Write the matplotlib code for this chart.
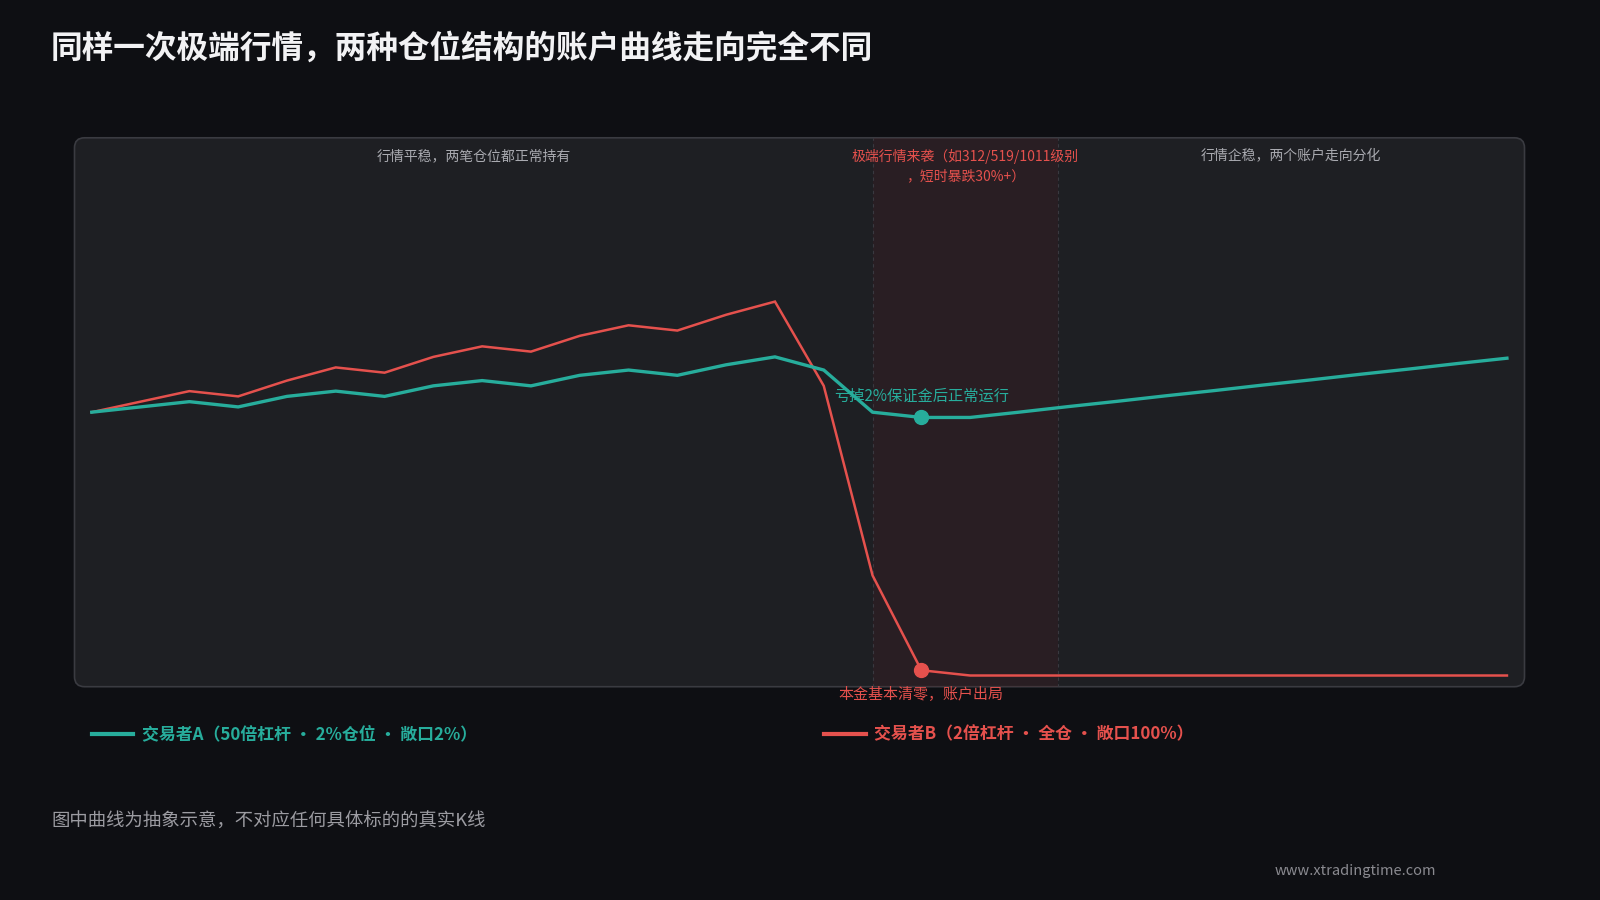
import matplotlib
matplotlib.use("Agg")
import matplotlib.pyplot as plt
from matplotlib.patches import FancyBboxPatch
from matplotlib.lines import Line2D

plt.rcParams['font.family'] = ['Noto Sans CJK SC', 'DejaVu Sans']

# account equity (start = 100), one value per time step
steps = list(range(30))
trader_a = [100, 102, 104, 102, 106, 108, 106, 110, 112, 110, 114, 116, 114, 118, 121,
            116, 100, 98, 98, 100, 102.1, 104.1, 106.2, 108.2, 110.3, 112.3, 114.4, 116.4, 118.5, 120.5]
trader_b = [100, 104, 108, 106, 112, 117, 115, 121, 125, 123, 129, 133, 131, 137, 142,
            110, 38, 2, 0, 0, 0, 0, 0, 0, 0, 0, 0, 0, 0, 0]
crash_start, crash_end = 16, 19.8
mark_step = 17

label_a = "交易者A（50倍杠杆 · 2%仓位 · 敞口2%）"
label_b = "交易者B（2倍杠杆 · 全仓 · 敞口100%）"
phase_labels = ["行情平稳，两笔仓位都正常持有",
                "极端行情来袭（如312/519/1011级别\n，短时暴跌30%+）",
                "行情企稳，两个账户走向分化"]
note_a = "亏掉2%保证金后正常运行"
note_b = "本金基本清零，账户出局"

BG = '#0e0f13'
PANEL = '#1e1f23'
TEAL = '#27ad9c'
RED = '#e5514d'
GREY = '#a9aab0'

fig = plt.figure(figsize=(16, 9), dpi=100, facecolor=BG)

# rounded panel
panel = FancyBboxPatch((0.745, 2.133), 14.5, 5.489,
                       boxstyle="round,pad=0,rounding_size=0.1",
                       transform=fig.dpi_scale_trans, facecolor=PANEL,
                       edgecolor='#3a3b41', linewidth=1.2, zorder=-1)
fig.patches.append(panel)

ax = fig.add_axes([74.5 / 1600, 213.3 / 900, 1450 / 1600, 548.9 / 900])
ax.set_zorder(2)
ax.set_facecolor('none')
ax.set_xlim(-0.354, 29.36)
ax.set_ylim(-4.25, 204.2)
for s in ax.spines.values():
    s.set_visible(False)
ax.set_xticks([])
ax.set_yticks([])

# crash zone
ax.axvspan(crash_start, crash_end, color='#6a1c24', alpha=0.15, lw=0, zorder=1)
for xv in (crash_start, crash_end):
    ax.axvline(xv, color='#393940', lw=0.8, ls=(0, (3, 3)), zorder=1)

ax.plot(steps, trader_b, color=RED, lw=1.8, zorder=3, solid_joinstyle='miter')
ax.plot(steps, trader_a, color=TEAL, lw=2.4, zorder=4, solid_joinstyle='miter')
ax.plot(mark_step, trader_a[mark_step], 'o', color=TEAL, ms=10, zorder=5)
ax.plot(mark_step, trader_b[mark_step], 'o', color=RED, ms=10, zorder=5)

ax.annotate(note_a, (mark_step, trader_a[mark_step]), xytext=(0, 15),
            textcoords='offset points', ha='center', va='center',
            color=TEAL, fontsize=11)
ax.annotate(note_b, (mark_step, trader_b[mark_step]), xytext=(0, -17),
            textcoords='offset points', ha='center', va='center',
            color=RED, fontsize=10.8, annotation_clip=False)

# phase labels
tr = ax.get_xaxis_transform()
xl = ax.get_xlim()
centers = [(xl[0] + crash_start) / 2, (crash_start + crash_end) / 2, (crash_end + xl[1]) / 2]
colors = [GREY, RED, GREY]
for c, t, col in zip(centers, phase_labels, colors):
    ax.text(c, 0.979, t, transform=tr, ha='center', va='top', fontsize=10,
            color=col, linespacing=1.45)

# title
fig.text(51 / 1600, 1 - 49 / 900, "同样一次极端行情，两种仓位结构的账户曲线走向完全不同",
         ha='left', va='center', fontsize=22.8, fontweight='bold', color='#f2f2f4')

# legend
ly = 1 - 734 / 900
fig.add_artist(Line2D([92 / 1600, 133 / 1600], [ly, ly], color=TEAL, lw=3,
                      transform=fig.transFigure))
fig.text(142 / 1600, ly, label_a, ha='left', va='center', fontsize=12.2,
         color=TEAL, fontweight='bold')
fig.add_artist(Line2D([824.5 / 1600, 866 / 1600], [ly, ly], color=RED, lw=3,
                      transform=fig.transFigure))
fig.text(874.5 / 1600, ly, label_b, ha='left', va='center', fontsize=12.2,
         color=RED, fontweight='bold')

# footnote and watermark
fig.text(51 / 1600, 1 - 822 / 900, "图中曲线为抽象示意，不对应任何具体标的的真实K线",
         ha='left', va='center', fontsize=13.2, color='#9c9ca2')
fig.text(1275 / 1600, 1 - 871 / 900, "www.xtradingtime.com",
         ha='left', va='center', fontsize=10.5, color='#8a8a90')

fig.savefig('out.png', dpi=100, facecolor=BG)
